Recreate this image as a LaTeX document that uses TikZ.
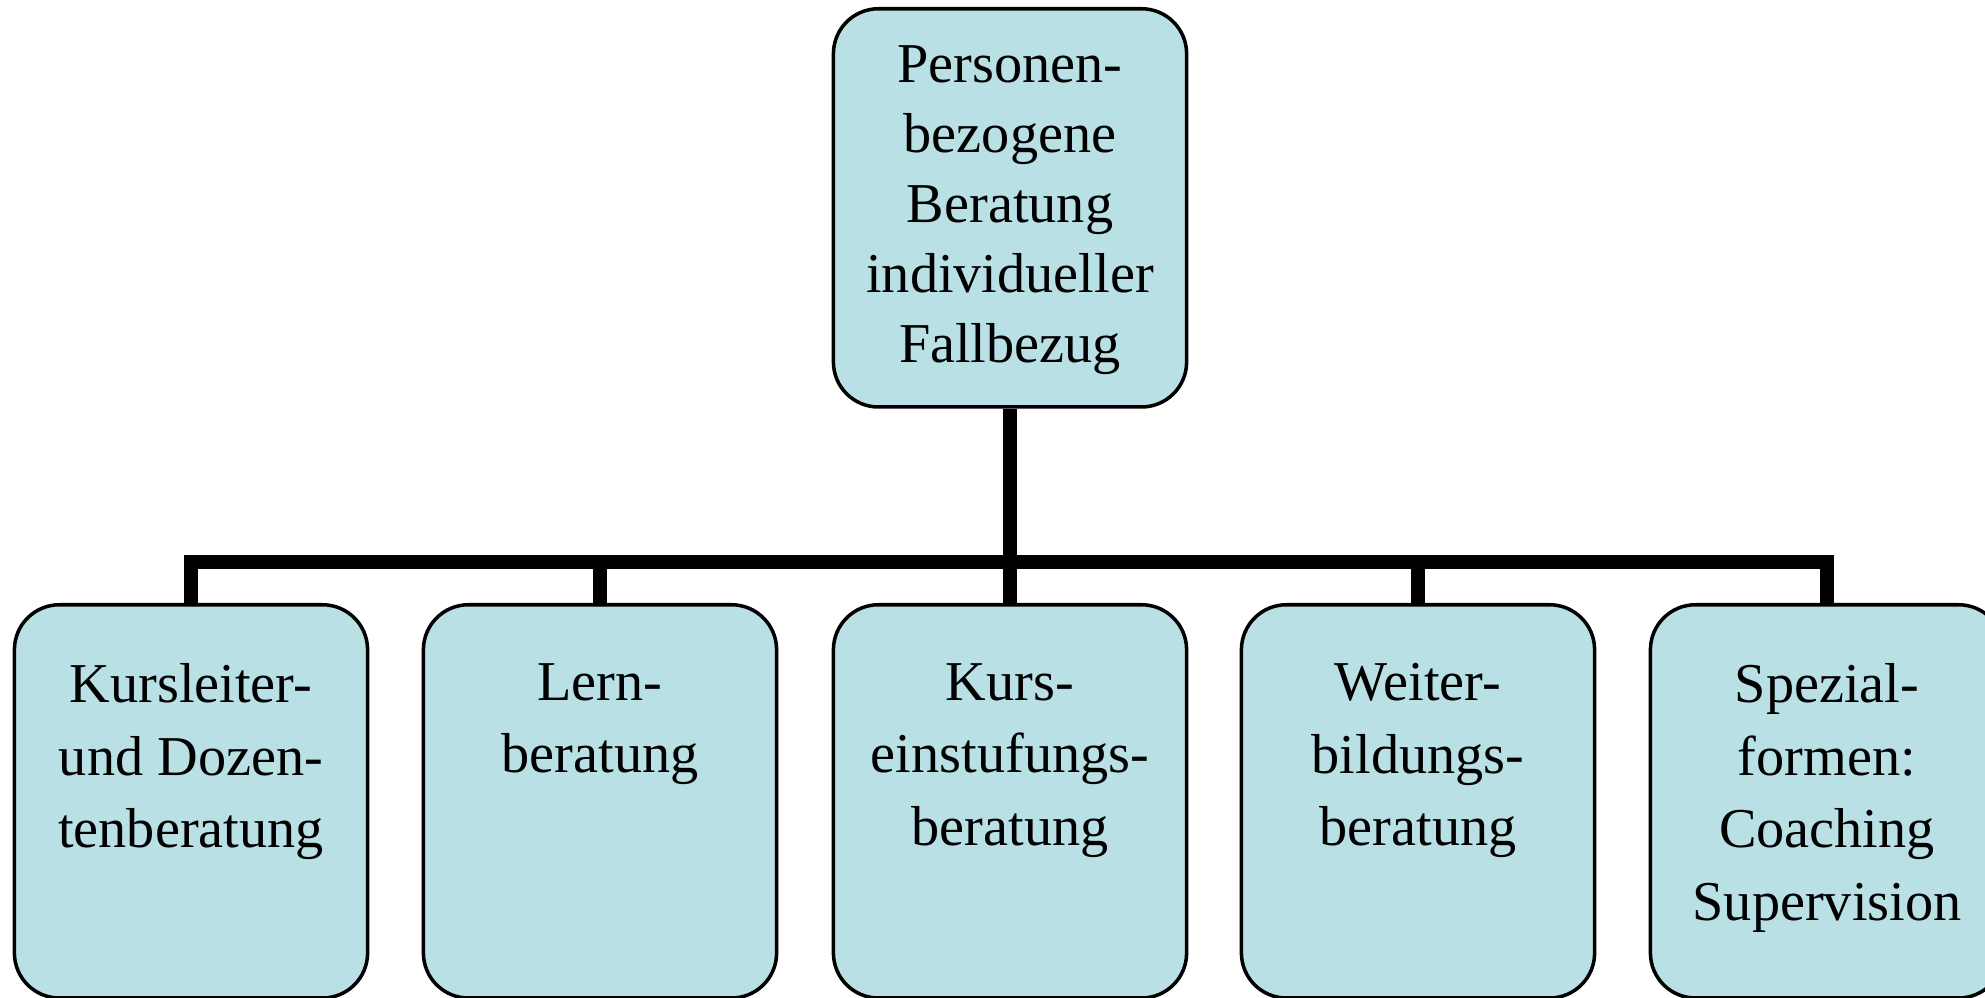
\documentclass[tikz,border=0pt]{standalone}
\usepackage{fontspec}
\setmainfont{Liberation Serif}
\definecolor{boxfill}{RGB}{185,224,229}
\begin{document}
\begin{tikzpicture}[x=0.01cm,y=-0.01cm,
  box/.style={draw=black, line width=1pt, fill=boxfill, rounded corners=0.45cm,
              minimum width=3.53cm, inner sep=0pt, anchor=north},
  txt/.style={font=\fontsize{16}{19.9}\selectfont, align=center, inner sep=0pt, anchor=north},
  btxt/.style={txt, font=\fontsize{16}{20.6}\selectfont},
  link/.style={line width=4.2pt, line join=miter}]
\useasboundingbox (0,0) rectangle (1985,998);
\clip (0,0) rectangle (1985,998);
% boxes
\node[box, minimum height=3.98cm] (top) at (1010,7) {};
\node[box, minimum height=3.93cm] (b1) at (191,603) {};
\node[box, minimum height=3.93cm] (b2) at (600,603) {};
\node[box, minimum height=3.93cm] (b3) at (1010,603) {};
\node[box, minimum height=3.93cm] (b4) at (1418,603) {};
\node[box, minimum height=3.93cm] (b5) at (1827,603) {};
% texts
\node[txt] (t0) at (1010,45) {Personen-\\bezogene\\Beratung\\individueller\\Fallbezug};
\node[btxt] (t1) at (191,663) {Kursleiter-\\und Dozen-\\tenberatung};
\node[btxt] (t2) at (600,663) {Lern-\\beratung};
\node[btxt] (t3) at (1010,663) {Kurs-\\einstufungs-\\beratung};
\node[btxt] (t4) at (1418,663) {Weiter-\\bildungs-\\beratung};
\node[btxt] (t5) at (1827,663) {Spezial-\\formen:\\Coaching\\Supervision};
% connectors
\coordinate (bar) at (1010,562);
\draw[link] (top.south) -- (b3.north);
\draw[link] (b1.north) -- (b1.north |- bar) -- (b5.north |- bar) -- (b5.north);
\draw[link] (b2.north) -- (b2.north |- bar);
\draw[link] (b4.north) -- (b4.north |- bar);
\end{tikzpicture}
\end{document}
